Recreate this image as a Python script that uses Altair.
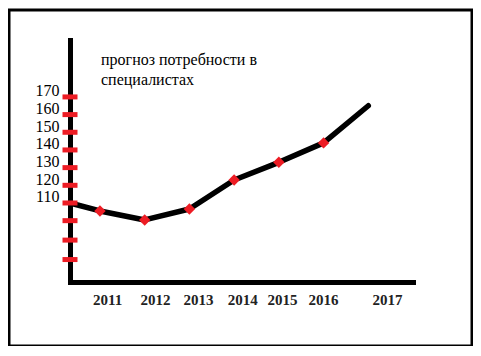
import altair as alt
import pandas as pd

# ---- data ----
line_years = [2010.33, 2011, 2012, 2013, 2014, 2015, 2016, 2017]
line_values = [110, 105.5, 100.4, 106.6, 123, 133, 144, 165]
marker_years = [2011, 2012, 2013, 2014, 2015, 2016]
marker_values = [105.5, 100.4, 106.6, 123, 133, 144]
tick_values = [78, 89, 100, 110, 120, 130, 140, 150, 160, 170]
y_label_values = [110, 120, 130, 140, 150, 160, 170]
x_label_years = [2011.16, 2012.23, 2013.19, 2014.18, 2015.07, 2015.99, 2017.42]
title_lines = ["прогноз потребности в", "специалистах"]

x_domain = [2010.33, 2018.0]
y_domain = [65.3, 202.2]

RED = "#ed1c24"
SERIF = "Liberation Serif, Times New Roman, serif"

line_df = pd.DataFrame({"year": line_years, "value": line_values})
marker_df = pd.DataFrame({"year": marker_years, "value": marker_values})
tick_df = pd.DataFrame({"value": tick_values})
frame_df = pd.DataFrame({"k": [0]})
title_df = pd.DataFrame({"t": ["\n".join(title_lines)]})

xscale = alt.Scale(domain=x_domain, nice=False, zero=False)
yscale = alt.Scale(domain=y_domain, nice=False, zero=False)

x_axis = alt.Axis(
    values=x_label_years,
    labelExpr="format(round(datum.value), 'd')",
    grid=False, ticks=False, tickSize=0,
    domainWidth=5, domainColor="black", domainCap="square",
    labelFont=SERIF, labelFontSize=15, labelColor="#222", labelFontWeight=600,
    labelPadding=10, labelAngle=0, labelBaseline="top", title=None,
)
y_axis = alt.Axis(
    values=y_label_values,
    grid=False, ticks=False, tickSize=0,
    domainWidth=5, domainColor="black", domainCap="square",
    labelFont=SERIF, labelFontSize=16, labelColor="black",
    labelPadding=11, labelOffset=-6, title=None,
)

line = alt.Chart(line_df).mark_line(
    color="black", strokeWidth=5.5, strokeCap="round", strokeJoin="round"
).encode(
    x=alt.X("year:Q", scale=xscale, axis=x_axis),
    y=alt.Y("value:Q", scale=yscale, axis=y_axis),
)

markers = alt.Chart(marker_df).mark_point(
    shape="diamond", filled=True, color=RED, size=130, opacity=1
).encode(
    x=alt.X("year:Q", scale=xscale),
    y=alt.Y("value:Q", scale=yscale),
)

ticks = alt.Chart(tick_df).mark_tick(
    orient="horizontal", color=RED, size=15, thickness=5, opacity=1
).encode(
    x=alt.XDatum(datum=x_domain[0], type="quantitative", scale=xscale),
    y=alt.Y("value:Q", scale=yscale),
)

frame = alt.Chart(frame_df).mark_rect(
    fill=None, stroke="black", strokeWidth=3
).encode(
    x=alt.value(-61), x2=alt.value(402), y=alt.value(-30), y2=alt.value(306)
)

title = alt.Chart(title_df).mark_text(
    align="left", baseline="alphabetic", font=SERIF, fontSize=16,
    lineHeight=20, color="black", lineBreak="\n"
).encode(
    x=alt.value(31), y=alt.value(25), text="t:N"
)

chart = alt.layer(frame, line, ticks, markers, title).properties(
    width=343, height=242,
    autosize=alt.AutoSizeParams(type="none"),
    padding={"left": 62, "top": 32, "right": 60, "bottom": 64},
).configure_view(stroke=None)

chart.save("out.html", embed_options={"renderer": "svg", "actions": False})
